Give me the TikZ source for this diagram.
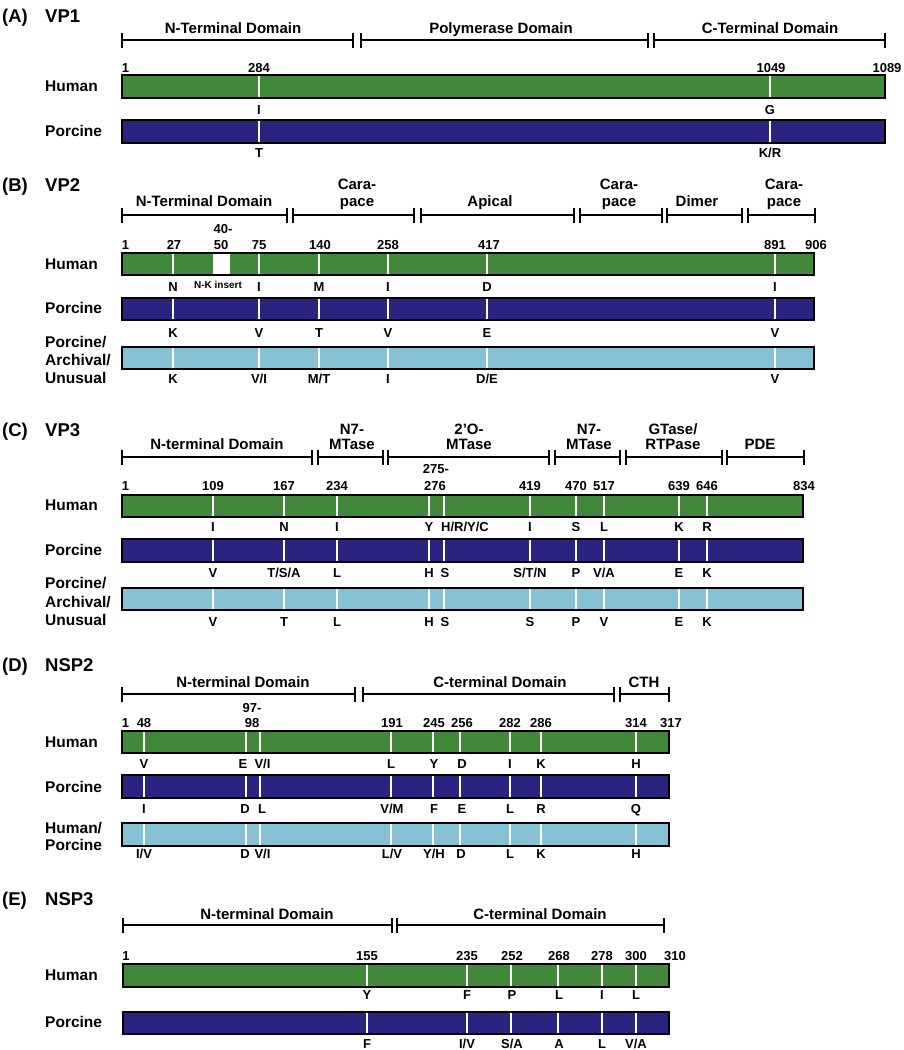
\documentclass[tikz,border=0pt]{standalone}
\usepackage{fontspec}
\setmainfont{Liberation Sans}
\definecolor{hgreen}{RGB}{66,136,58}
\definecolor{pblue}{RGB}{42,36,128}
\definecolor{lblue}{RGB}{134,193,214}
\newcounter{nd}
\newcommand\txt[4]{\stepcounter{nd}\node[#1] (n\arabic{nd}) at (#2,#3) {#4};}
\newcommand\segm[3]{\draw[domline] ({#2},{#1-7.5}) -- ({#2},{#1+7.5}) ({#2},{#1}) -- ({#3},{#1}) ({#3},{#1-7.5}) -- ({#3},{#1+7.5});}
\newcommand\pbar[6]{%
  \fill[#1] (#2,#4) rectangle (#3,#5);
  \foreach \xx in {#6} {\draw[wline] (\xx,#4) -- (\xx,#5);}
  \draw[bardraw] (#2,#4) rectangle (#3,#5);}
\begin{document}
\begin{tikzpicture}[x=1pt,y=-1pt,
 ttl/.style={font=\fontsize{18.5}{20}\selectfont\bfseries, anchor=base west, inner sep=0pt},
 lab/.style={font=\fontsize{15.5}{17}\selectfont\bfseries, anchor=base west, inner sep=0pt},
 dom/.style={font=\fontsize{15}{17}\selectfont\bfseries, anchor=base, inner sep=0pt},
 num/.style={font=\fontsize{13}{15}\selectfont\bfseries, anchor=base, inner sep=0pt},
 numw/.style={num, anchor=base west},
 small/.style={font=\fontsize{10}{12}\selectfont\bfseries, anchor=base, inner sep=0pt},
 domline/.style={line width=1.6pt, black},
 bardraw/.style={line width=1.8pt, black},
 wline/.style={line width=2pt, white}]
\useasboundingbox (0,0) rectangle (904,1050);
\fill[white] (0,0) rectangle (904,1050);
% ================= (A) VP1
\txt{ttl}{2}{22}{(A)}\txt{ttl}{45}{22}{VP1}
\segm{40}{122}{353}\segm{40}{361}{648}\segm{40}{654}{885}
\txt{dom}{233}{33}{N-Terminal Domain}
\txt{dom}{501}{33}{Polymerase Domain}
\txt{dom}{770}{33}{C-Terminal Domain}
\txt{num}{125.5}{72}{1}\txt{num}{259}{72}{284}\txt{num}{771}{72}{1049}\txt{num}{887}{72}{1089}
\pbar{hgreen}{122}{885}{75}{98}{259,770}
\txt{lab}{45}{91}{Human}
\txt{num}{259}{114}{I}\txt{num}{770}{114}{G}
\pbar{pblue}{122}{885}{120}{143}{259,770}
\txt{lab}{45}{136}{Porcine}
\txt{num}{259}{157}{T}\txt{num}{770}{157}{K/R}
% ================= (B) VP2
\txt{ttl}{2}{191}{(B)}\txt{ttl}{45}{191}{VP2}
\segm{215}{122}{287}\segm{215}{293}{414}\segm{215}{421}{574}\segm{215}{580}{662}\segm{215}{667}{742}\segm{215}{748}{815}
\txt{dom}{204}{206}{N-Terminal Domain}
\txt{dom}{357}{189.5}{Cara-}\txt{dom}{357}{206}{pace}
\txt{dom}{490}{206}{Apical}
\txt{dom}{619}{189.5}{Cara-}\txt{dom}{619}{206}{pace}
\txt{dom}{697}{206}{Dimer}
\txt{dom}{784}{189.5}{Cara-}\txt{dom}{784}{206}{pace}
\txt{num}{223}{233}{40-}
\txt{num}{125.5}{249}{1}\txt{num}{174}{249}{27}\txt{num}{221}{249}{50}\txt{num}{259}{249}{75}
\txt{num}{320}{249}{140}\txt{num}{388}{249}{258}\txt{num}{489}{249}{417}\txt{num}{775}{249}{891}\txt{num}{816}{249}{906}
\pbar{hgreen}{122}{814}{253}{275}{173,259,319,388,487,775}
\fill[white] (213,254) rectangle (230,274);
\txt{lab}{45}{269}{Human}
\txt{num}{173}{291}{N}\txt{small}{218}{288}{N-K insert}\txt{num}{259}{291}{I}\txt{num}{319}{291}{M}
\txt{num}{388}{291}{I}\txt{num}{487}{291}{D}\txt{num}{775}{291}{I}
\pbar{pblue}{122}{814}{298}{320}{173,259,319,388,487,775}
\txt{lab}{45}{313.5}{Porcine}
\txt{num}{173}{337}{K}\txt{num}{259}{337}{V}\txt{num}{319}{337}{T}
\txt{num}{388}{337}{V}\txt{num}{487}{337}{E}\txt{num}{775}{337}{V}
\pbar{lblue}{122}{814}{347}{369}{173,259,319,388,487,775}
\txt{lab}{45}{347}{Porcine/}\txt{lab}{45}{365}{Archival/}\txt{lab}{45}{383}{Unusual}
\txt{num}{173}{383}{K}\txt{num}{259}{383}{V/I}\txt{num}{319}{383}{M/T}
\txt{num}{388}{383}{I}\txt{num}{487}{383}{D/E}\txt{num}{775}{383}{V}
% ================= (C) VP3
\txt{ttl}{2}{436}{(C)}\txt{ttl}{45}{436}{VP3}
\segm{457}{122}{312}\segm{457}{318}{383}\segm{457}{388}{549}\segm{457}{555}{620}\segm{457}{626}{722}\segm{457}{727}{804}
\txt{dom}{217}{449}{N-terminal Domain}
\txt{dom}{352}{434}{N7-}\txt{dom}{352}{449}{MTase}
\txt{dom}{469}{434}{2’O-}\txt{dom}{469}{449}{MTase}
\txt{dom}{589}{434}{N7-}\txt{dom}{589}{449}{MTase}
\txt{dom}{673}{434}{GTase/}\txt{dom}{673}{449}{RTPase}
\txt{dom}{760}{449}{PDE}
\txt{num}{436}{473}{275-}
\txt{num}{125.5}{490}{1}\txt{num}{213}{490}{109}\txt{num}{284}{490}{167}\txt{num}{337}{490}{234}
\txt{num}{435}{490}{276}\txt{num}{530}{490}{419}\txt{num}{576}{490}{470}\txt{num}{604}{490}{517}
\txt{num}{679}{490}{639}\txt{num}{707}{490}{646}\txt{num}{804}{490}{834}
\pbar{hgreen}{122}{803}{495}{517}{213,284,337,429,444,530,576,603.5,678.7,706.7}
\txt{lab}{45}{510.5}{Human}
\txt{num}{213}{531}{I}\txt{num}{284}{531}{N}\txt{num}{337}{531}{I}\txt{num}{429}{531}{Y}
\txt{numw}{441}{531}{H/R/Y/C}\txt{num}{530}{531}{I}\txt{num}{576}{531}{S}\txt{num}{604}{531}{L}
\txt{num}{679}{531}{K}\txt{num}{707}{531}{R}
\pbar{pblue}{122}{803}{539}{562}{213,284,337,429,444,530,576,603.5,678.7,706.7}
\txt{lab}{45}{555}{Porcine}
\txt{num}{213}{577}{V}\txt{num}{284}{577}{T/S/A}\txt{num}{337}{577}{L}\txt{num}{429}{577}{H}
\txt{num}{445}{577}{S}\txt{num}{530}{577}{S/T/N}\txt{num}{576}{577}{P}\txt{num}{604}{577}{V/A}
\txt{num}{679}{577}{E}\txt{num}{707}{577}{K}
\pbar{lblue}{122}{803}{588}{610}{213,284,337,429,444,530,576,603.5,678.7,706.7}
\txt{lab}{45}{588}{Porcine/}\txt{lab}{45}{607}{Archival/}\txt{lab}{45}{625}{Unusual}
\txt{num}{213}{626}{V}\txt{num}{284}{626}{T}\txt{num}{337}{626}{L}\txt{num}{429}{626}{H}
\txt{num}{445}{626}{S}\txt{num}{530}{626}{S}\txt{num}{576}{626}{P}\txt{num}{604}{626}{V}
\txt{num}{679}{626}{E}\txt{num}{707}{626}{K}
% ================= (D) NSP2
\txt{ttl}{2}{671}{(D)}\txt{ttl}{45}{671}{NSP2}
\segm{694}{122}{355}\segm{694}{363}{614}\segm{694}{620}{669}
\txt{dom}{243}{687}{N-terminal Domain}
\txt{dom}{500}{687}{C-terminal Domain}
\txt{dom}{644}{687}{CTH}
\txt{num}{252}{712}{97-}
\txt{num}{125.5}{727}{1}\txt{num}{144}{727}{48}\txt{num}{252}{727}{98}\txt{num}{392}{727}{191}
\txt{num}{434}{727}{245}\txt{num}{462}{727}{256}\txt{num}{510}{727}{282}\txt{num}{541}{727}{286}
\txt{num}{636}{727}{314}\txt{num}{671}{727}{317}
\pbar{hgreen}{122}{669}{731}{753}{144,246,260,391,433,460,510,541,636}
\txt{lab}{45}{747}{Human}
\txt{num}{144}{768}{V}\txt{num}{243}{768}{E}\txt{num}{262.5}{768}{V/I}\txt{num}{391}{768}{L}
\txt{num}{434}{768}{Y}\txt{num}{462}{768}{D}\txt{num}{510}{768}{I}\txt{num}{541}{768}{K}\txt{num}{636}{768}{H}
\pbar{pblue}{122}{669}{775}{798}{144,246,260,391,433,460,510,541,636}
\txt{lab}{45}{792}{Porcine}
\txt{num}{144}{813}{I}\txt{num}{245}{813}{D}\txt{num}{262}{813}{L}\txt{num}{392}{813}{V/M}
\txt{num}{434}{813}{F}\txt{num}{462}{813}{E}\txt{num}{510}{813}{L}\txt{num}{541}{813}{R}\txt{num}{636}{813}{Q}
\pbar{lblue}{122}{669}{823}{846}{144,246,260,391,433,460,510,541,636}
\txt{lab}{45}{833}{Human/}\txt{lab}{45}{850}{Porcine}
\txt{num}{144}{858}{I/V}\txt{num}{245}{858}{D}\txt{num}{262.5}{858}{V/I}\txt{num}{392}{858}{L/V}
\txt{num}{434}{858}{Y/H}\txt{num}{461}{858}{D}\txt{num}{510}{858}{L}\txt{num}{541}{858}{K}\txt{num}{636}{858}{H}
% ================= (E) NSP3
\txt{ttl}{2}{905}{(E)}\txt{ttl}{45}{905}{NSP3}
\segm{925}{123}{392}\segm{925}{397}{664}
\txt{dom}{267}{919}{N-terminal Domain}
\txt{dom}{540}{919}{C-terminal Domain}
\txt{num}{126}{960}{1}\txt{num}{367}{960}{155}\txt{num}{467}{960}{235}\txt{num}{512}{960}{252}
\txt{num}{559}{960}{268}\txt{num}{602}{960}{278}\txt{num}{636}{960}{300}\txt{num}{675}{960}{310}
\pbar{hgreen}{123}{669}{964}{987}{367,467,511,558,602,636}
\txt{lab}{45}{980}{Human}
\txt{num}{367}{999}{Y}\txt{num}{467}{999}{F}\txt{num}{512}{999}{P}\txt{num}{559}{999}{L}
\txt{num}{602}{999}{I}\txt{num}{636}{999}{L}
\pbar{pblue}{123}{669}{1012}{1034}{367,467,511,558,602,636}
\txt{lab}{45}{1027}{Porcine}
\txt{num}{367}{1048}{F}\txt{num}{467}{1048}{I/V}\txt{num}{512}{1048}{S/A}\txt{num}{559}{1048}{A}
\txt{num}{602}{1048}{L}\txt{num}{636}{1048}{V/A}
\end{tikzpicture}
\end{document}
